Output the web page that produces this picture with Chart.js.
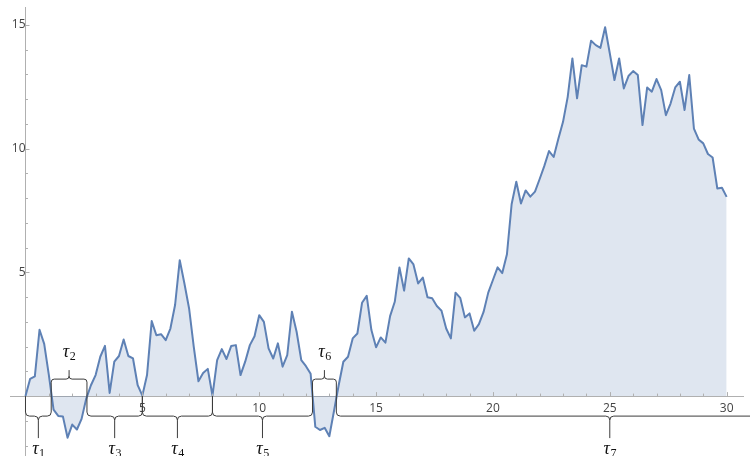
<!doctype html>
<html>
<head>
  <meta charset="utf-8" />
  <title>Random walk excursions</title>
  <style>
    html, body { margin:0; padding:0; background:#fff; }
    #wrap { width:750px; height:456px; }
  </style>
</head>
<body>
  <div id="wrap"><canvas id="chart" width="750" height="456"></canvas></div>

  <script src="https://cdn.jsdelivr.net/npm/chart.js@4.4.1/dist/chart.umd.min.js"></script>
  <script>
    // sampling step of the walk (x = i * step)
    const step = 0.2;
    const walk = [
      0, 0.7, 0.8, 2.68, 2.11, 0.85, -0.55, -0.8, -0.82, -1.68,
      -1.15, -1.35, -0.92, -0.1, 0.44, 0.85, 1.59, 2.03, 0.13, 1.39,
      1.62, 2.29, 1.62, 1.52, 0.44, 0.02, 0.85, 3.03, 2.46, 2.5,
      2.26, 2.73, 3.68, 5.49, 4.55, 3.54, 1.99, 0.6, 0.93, 1.1,
      0.02, 1.45, 1.9, 1.5, 2.02, 2.06, 0.85, 1.39, 2.06, 2.42,
      3.27, 3.0, 1.93, 1.52, 2.13, 1.19, 1.66, 3.41, 2.6, 1.45,
      1.21, 0.9, -1.24, -1.37, -1.28, -1.62, -0.6, 0.44, 1.39, 1.59,
      2.33, 2.53, 3.77, 4.05, 2.67, 1.97, 2.37, 2.16, 3.23, 3.81,
      5.2, 4.26, 5.56, 5.32, 4.55, 4.79, 3.99, 3.95, 3.64, 3.45,
      2.73, 2.33, 4.18, 3.97, 3.18, 3.34, 2.64, 2.91, 3.4, 4.18,
      4.69, 5.2, 4.97, 5.73, 7.75, 8.66, 7.78, 8.31, 8.06, 8.26,
      8.77, 9.3, 9.9, 9.66, 10.4, 11.08, 12.09, 13.64, 12.03, 13.37,
      13.31, 14.36, 14.18, 14.07, 14.9, 13.85, 12.77, 13.64, 12.43, 12.93,
      13.13, 12.97, 10.95, 12.47, 12.3, 12.81, 12.36, 11.35, 11.82, 12.47,
      12.7, 11.56, 12.97, 10.81, 10.37, 10.21, 9.78, 9.64, 8.39, 8.42,
      8.05
    ];
    const xTicks = [5, 10, 15, 20, 25, 30];
    const yTicks = [5, 10, 15];
    const xMinor = [1,2,3,4,6,7,8,9,11,12,13,14,16,17,18,19,21,22,23,24,26,27,28,29];
    const yMinor = [-2,-1,1,2,3,4,6,7,8,9,11,12,13,14];

    // zero crossings (brace ends); last one lies beyond the plot
    const crossings = [0, 1.1, 2.63, 5.0, 8.0, 12.28, 13.3, 36.7];
    const excursionSign = [1, -1, 1, 1, 1, -1, 1];
    const tauSubs = ['1', '2', '3', '4', '5', '6', '7'];

    const points = walk.map((v, i) => ({ x: +(i * step).toFixed(1), y: v }));

    const AXIS = '#b0b0b0';
    const TICK_TXT = '#444';

    const decor = {
      id: 'decor',
      afterDraw(chart) {
        const { ctx, scales: { x, y } } = chart;
        const y0 = y.getPixelForValue(0);
        const x0 = x.getPixelForValue(0);
        ctx.save();

        // inward tick marks
        ctx.strokeStyle = AXIS;
        ctx.lineWidth = 1;
        ctx.beginPath();
        const xt = (v, len) => { const p = Math.round(x.getPixelForValue(v)) + 0.5; ctx.moveTo(p, y0); ctx.lineTo(p, y0 - len); };
        const yt = (v, len) => { const p = Math.round(y.getPixelForValue(v)) + 0.5; ctx.moveTo(x0, p); ctx.lineTo(x0 + len, p); };
        xTicks.forEach(v => xt(v, 4));
        xMinor.forEach(v => xt(v, 2.5));
        yTicks.forEach(v => yt(v, 4));
        yMinor.forEach(v => yt(v, 2.5));
        ctx.stroke();

        // braces + tau labels
        ctx.strokeStyle = '#3c3c3c';
        ctx.fillStyle = '#111';
        for (let k = 0; k < excursionSign.length; k++) {
          const a = x.getPixelForValue(crossings[k]);
          const b = x.getPixelForValue(crossings[k + 1]);
          const m = (a + b) / 2;
          const below = excursionSign[k] > 0;
          const d = below ? 1 : -1;
          const yH = y0 + d * (below ? 20 : 17);
          const tip = y0 + d * (below ? 42 : 26);
          const r = below ? 4 : 3;

          ctx.beginPath();
          ctx.moveTo(a, y0);
          ctx.lineTo(a, yH - d * r);
          ctx.quadraticCurveTo(a, yH, a + r, yH);
          ctx.lineTo(m - r, yH);
          ctx.quadraticCurveTo(m, yH, m, yH + d * r);
          ctx.lineTo(m, tip);
          ctx.moveTo(m, yH + d * r);
          ctx.quadraticCurveTo(m, yH, m + r, yH);
          ctx.lineTo(b - r, yH);
          ctx.quadraticCurveTo(b, yH, b, yH - d * r);
          ctx.lineTo(b, y0);
          ctx.stroke();

          const base = below ? y0 + 58 : y0 - 39;
          ctx.textAlign = 'left';
          ctx.textBaseline = 'alphabetic';
          ctx.font = 'italic 18px "Liberation Serif"';
          const w1 = ctx.measureText('τ').width;
          ctx.font = '12px "Liberation Serif"';
          const w2 = ctx.measureText(tauSubs[k]).width;
          const left = m - (w1 + w2) / 2;
          ctx.font = 'italic 18px "Liberation Serif"';
          ctx.fillText('τ', left, base);
          ctx.font = '12px "Liberation Serif"';
          ctx.fillText(tauSubs[k], left + w1 + 0.5, base + 3);
        }
        ctx.restore();
      }
    };

    const noPad = s => { s.paddingLeft = 0; s.paddingRight = 0; s.paddingTop = 0; s.paddingBottom = 0; };

    new Chart(document.getElementById('chart').getContext('2d'), {
      type: 'line',
      data: {
        datasets: [{
          data: points,
          borderColor: '#5e81b5',
          borderWidth: 2,
          borderJoinStyle: 'round',
          backgroundColor: 'rgba(94,129,181,0.2)',
          fill: { value: 0 },
          pointRadius: 0,
          tension: 0
        }]
      },
      options: {
        responsive: false,
        animation: false,
        devicePixelRatio: 1,
        layout: { autoPadding: false, padding: { left: 10, right: 7, top: 7, bottom: 0 } },
        plugins: { legend: { display: false }, tooltip: { enabled: false } },
        scales: {
          x: {
            type: 'linear', min: -0.663, max: 30.7,
            position: { y: 0 },
            grid: { display: false, drawTicks: false },
            border: { color: AXIS, width: 1 },
            afterBuildTicks: s => { s.ticks = xTicks.map(v => ({ value: v })); },
            afterFit: noPad,
            ticks: { color: TICK_TXT, font: { family: '"Open Sans"', size: 12 }, padding: 5, maxRotation: 0, autoSkip: false }
          },
          y: {
            type: 'linear', min: -2.42, max: 15.72,
            position: { x: 0 },
            grid: { display: false, drawTicks: false },
            border: { color: AXIS, width: 1 },
            afterBuildTicks: s => { s.ticks = yTicks.map(v => ({ value: v })); },
            afterFit: noPad,
            ticks: { color: TICK_TXT, font: { family: '"Open Sans"', size: 12 }, padding: 5, autoSkip: false }
          }
        }
      },
      plugins: [decor]
    });
  </script>
</body>
</html>
